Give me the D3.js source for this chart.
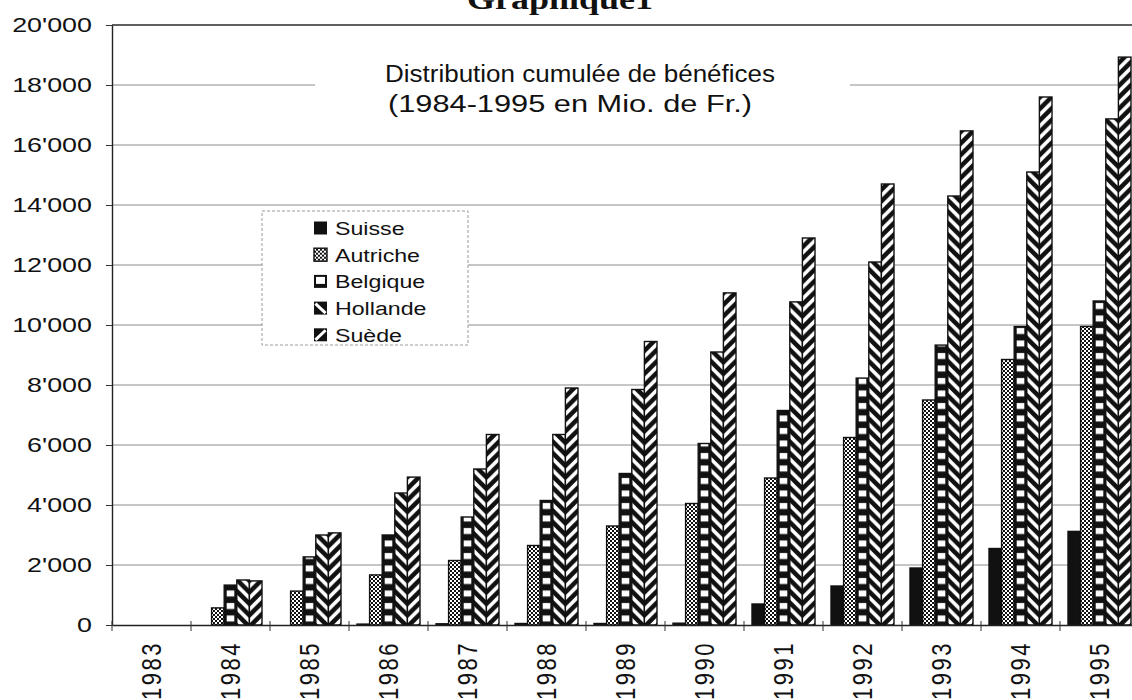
<!DOCTYPE html>
<html>
<head>
<meta charset="utf-8">
<script src="https://cdn.jsdelivr.net/npm/d3@7"></script>
<style>
body { margin: 0; background: #fff; }
svg { display: block; font-family: "Liberation Sans", Arial, sans-serif; }
</style>
</head>
<body>
<svg id="chart"></svg>
<script>

// data (Mio. de Fr., cumulated)
var years = ["1983","1984","1985","1986","1987","1988","1989","1990","1991","1992","1993","1994","1995"];
var seriesNames = ["Suisse","Autriche","Belgique","Hollande","Suède"];
var suisse   = [0,    0,    0,   30,   40,   50,   50,   60,   700,  1300,  1900,  2550,  3120];
var autriche = [0,  570, 1130, 1670, 2150, 2650, 3300, 4050,  4900,  6250,  7500,  8850,  9950];
var belgique = [0, 1330, 2270, 3000, 3600, 4150, 5050, 6050,  7150,  8230,  9330,  9950, 10800];
var hollande = [0, 1500, 3000, 4400, 5200, 6350, 7850, 9100, 10770, 12100, 14300, 15100, 16870];
var suede    = [0, 1470, 3070, 4930, 6350, 7900, 9450, 11070, 12900, 14700, 16470, 17600, 18930];
var yTicks = [0, 2000, 4000, 6000, 8000, 10000, 12000, 14000, 16000, 18000, 20000];

var width = 1132;
var height = 700;
var plotLeft = 112;
var plotRight = 1139;
var plotTop = 25;
var plotBottom = 625;
var barPad = 8;
var hatchStep = 11.5;
var brickStep = 12.5;

var svg = d3.select("#chart")
.attr("width", width)
.attr("height", height);

var x = d3.scaleBand()
.domain(years)
.range([plotLeft, plotRight]);

var xs = d3.scaleBand()
.domain(seriesNames)
.range([barPad, x.bandwidth()-barPad]);

var y = d3.scaleLinear()
.domain([0, 20000])
.range([plotBottom, plotTop]);

var rows = years.map(function(yr, i) {
	return {year: yr, values: [suisse[i], autriche[i], belgique[i], hollande[i], suede[i]]};
});

// ---- patterns (tile = one year band, so the hatches line up in every group)
var defs = svg.append("defs");

var pAut = defs.append("pattern")
.attr("id", "pAutriche")
.attr("patternUnits", "userSpaceOnUse")
.attr("width", 4)
.attr("height", 4);
pAut.append("rect").attr("width", 4).attr("height", 4).attr("fill", "#fff");
pAut.append("rect").attr("width", 2).attr("height", 2).attr("fill", "#111");
pAut.append("rect").attr("x", 2).attr("y", 2).attr("width", 2).attr("height", 2).attr("fill", "#111");

var belX = xs("Belgique");
var pBel = defs.append("pattern")
.attr("id", "pBelgique")
.attr("patternUnits", "userSpaceOnUse")
.attr("width", x.step())
.attr("height", brickStep);
pBel.append("rect").attr("width", x.step()).attr("height", brickStep).attr("fill", "#111");
pBel.append("rect")
.attr("x", belX+2.5)
.attr("y", 3)
.attr("width", xs.bandwidth()-5)
.attr("height", 6)
.attr("fill", "#fff");

// boundary between Hollande and Suède: the two hatches meet there as chevrons
var seam = xs("Suède");
function hatchPath(dir) {
	var p = "";
	for (var m = -7; m <= 7; m++) {
		p += "M"+(seam-45)+","+(m*hatchStep-dir*45)+"L"+(seam+45)+","+(m*hatchStep+dir*45);
	}
	return p;
}
[["pHollande", 1], ["pSuede", -1]].forEach(function(h) {
	var pat = defs.append("pattern")
	.attr("id", h[0])
	.attr("patternUnits", "userSpaceOnUse")
	.attr("width", x.step())
	.attr("height", hatchStep);
	pat.append("rect").attr("width", x.step()).attr("height", hatchStep).attr("fill", "#111");
	pat.append("path")
	.attr("d", hatchPath(h[1]))
	.attr("stroke", "#fff")
	.attr("stroke-width", 3.6)
	.attr("fill", "none");
});

var fills = {
	"Suisse": "#111",
	"Autriche": "url(#pAutriche)",
	"Belgique": "url(#pBelgique)",
	"Hollande": "url(#pHollande)",
	"Suède": "url(#pSuede)"
};

// ---- title (cut by the top edge, as in the scan)
svg.append("g")
.attr("transform", "translate(560,9) scale(1.2,1)")
.append("text")
.attr("text-anchor", "middle")
.attr("font-family", "'Liberation Serif', 'Times New Roman', serif")
.attr("font-weight", "bold")
.attr("font-size", 30)
.attr("fill", "#111")
.text("Graphique1");

// ---- grid
svg.append("g")
.selectAll("line")
.data(yTicks.filter(function(d) { return d > 0; }))
.join("line")
.attr("x1", plotLeft)
.attr("x2", width)
.attr("y1", function(d) { return y(d); })
.attr("y2", function(d) { return y(d); })
.attr("stroke", function(d) { return d == 20000 ? "#2a2a2a" : "#8c8c8c"; })
.attr("stroke-width", function(d) { return d == 20000 ? 1.6 : 1; });

// white box behind the subtitle
svg.append("rect")
.attr("x", 315)
.attr("y", 48)
.attr("width", 535)
.attr("height", 76)
.attr("fill", "#fff");

svg.append("text")
.attr("x", 580)
.attr("y", 82)
.attr("text-anchor", "middle")
.attr("font-size", 23)
.attr("textLength", 390)
.attr("lengthAdjust", "spacingAndGlyphs")
.attr("fill", "#111")
.text("Distribution cumulée de bénéfices");
svg.append("text")
.attr("x", 570)
.attr("y", 112)
.attr("text-anchor", "middle")
.attr("font-size", 23)
.attr("textLength", 364)
.attr("lengthAdjust", "spacingAndGlyphs")
.attr("fill", "#111")
.text("(1984-1995 en Mio. de Fr.)");

// ---- bars
var gYear = svg.append("g")
.selectAll("g")
.data(rows)
.join("g")
.attr("transform", function(d) { return "translate("+x(d.year)+",0)"; });

gYear.selectAll("rect")
.data(function(d) {
	return d.values.map(function(v, k) { return {name: seriesNames[k], value: v}; });
})
.join("rect")
.attr("x", function(d) { return xs(d.name); })
.attr("y", function(d) { return y(d.value); })
.attr("width", xs.bandwidth())
.attr("height", function(d) { return plotBottom - y(d.value); })
.attr("fill", function(d) { return fills[d.name]; })
.attr("stroke", "#111")
.attr("stroke-width", 1.4);

// ---- axes
var yAxis = svg.append("g")
.attr("transform", "translate("+plotLeft+",0)")
.call(d3.axisLeft(y)
	.tickValues(yTicks)
	.tickSize(6)
	.tickSizeOuter(0)
	.tickFormat(function(d) { return d3.format(",")(d).replace(/,/g, "'"); }))
.attr("font-family", null)
.attr("font-size", 21);
yAxis.select(".domain").attr("stroke", "#222").attr("stroke-width", 1.4);
yAxis.selectAll(".tick line").attr("stroke", "#333");
yAxis.selectAll(".tick text")
.attr("x", 0)
.attr("fill", "#111")
.attr("transform", "translate(-20,0) scale(1.28,1)");

var xAxis = svg.append("g")
.attr("transform", "translate(0,"+plotBottom+")")
.call(d3.axisBottom(x).tickSize(0).tickSizeOuter(0))
.attr("font-family", null)
.attr("font-size", 22);
xAxis.select(".domain").attr("stroke", "#222").attr("stroke-width", 1.6);
xAxis.selectAll(".tick text")
.attr("x", 0)
.attr("y", 0)
.attr("dy", "0.35em")
.attr("text-anchor", "end")
.attr("letter-spacing", 2.5)
.attr("fill", "#111")
.attr("transform", "translate(0,16) scale(1.22,1) rotate(-90)");

// category separators on the base line
svg.append("g")
.selectAll("line")
.data(years)
.join("line")
.attr("x1", function(d) { return x(d); })
.attr("x2", function(d) { return x(d); })
.attr("y1", plotBottom-4)
.attr("y2", plotBottom+6)
.attr("stroke", "#333");

// ---- legend
var gLegend = svg.append("g")
.attr("transform", "translate(262,211)");
gLegend.append("rect")
.attr("width", 206)
.attr("height", 134)
.attr("fill", "#fff")
.attr("stroke", "#9a9a9a")
.attr("stroke-dasharray", "3,2");

var legendItem = gLegend.selectAll("g.item")
.data(seriesNames)
.join("g")
.attr("class", "item")
.attr("transform", function(d, i) { return "translate(52,"+(17+i*26.7)+")"; });

legendItem.each(function(d) {
	var g = d3.select(this);
	var s = 13;
	if (d == "Suisse") {
		g.append("rect").attr("y", -s/2).attr("width", s).attr("height", s).attr("fill", "#111");
	} else if (d == "Autriche") {
		g.append("rect").attr("y", -s/2).attr("width", s).attr("height", s)
		.attr("fill", "url(#pAutriche)").attr("stroke", "#111").attr("stroke-width", 1.4);
	} else if (d == "Belgique") {
		g.append("rect").attr("y", -s/2).attr("width", s).attr("height", s).attr("fill", "#111");
		g.append("rect").attr("x", 2).attr("y", -s/2+2).attr("width", s-4).attr("height", s-6).attr("fill", "#fff");
	} else {
		var dir = d == "Hollande" ? 1 : -1;
		g.append("rect").attr("y", -s/2).attr("width", s).attr("height", s).attr("fill", "#111");
		g.append("path")
		.attr("d", dir > 0 ? "M2.5,-3.5 L10.5,4" : "M2.5,4 L10.5,-3.5")
		.attr("stroke", "#fff")
		.attr("stroke-width", 3)
		.attr("stroke-linecap", "square");
	}
	g.append("g")
	.attr("transform", "translate(21,7) scale(1.22,1)")
	.append("text")
	.attr("font-size", 19)
	.attr("fill", "#111")
	.text(d);
});

</script>
</body>
</html>
